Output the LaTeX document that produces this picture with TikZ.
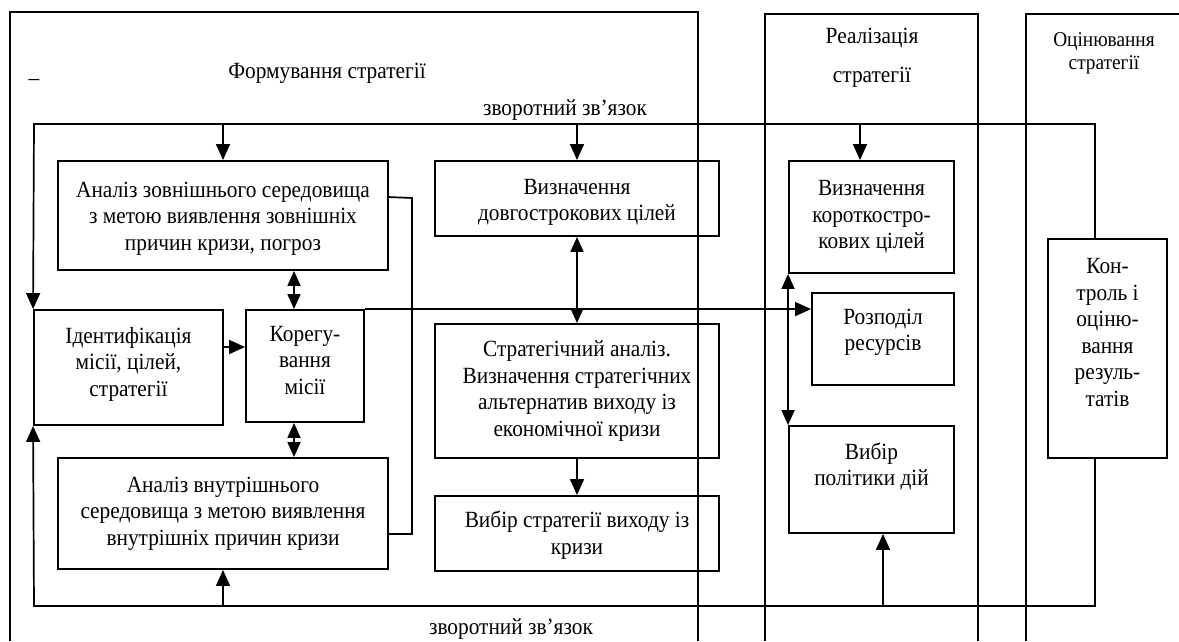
\documentclass[tikz,border=0pt]{standalone}
\usepackage{fontspec}
\setmainfont{Liberation Serif}[FakeStretch=0.92]
\usetikzlibrary{arrows.meta,calc}
\begin{document}
\begin{tikzpicture}[x=1pt,y=-1pt,
  box/.style={draw,line width=1.9pt,inner sep=0pt,align=center,font=\fontsize{23.2}{26.5}\selectfont},
  frame/.style={line width=1.4pt},
  conn/.style={line width=1.7pt},
  arr/.style={conn,-{Triangle[length=16pt,width=14pt]}},
  darr/.style={conn,{Triangle[length=15pt,width=13pt]}-{Triangle[length=15pt,width=13pt]}},
  lab/.style={inner sep=0pt,font=\fontsize{23.2}{26.5}\selectfont},
  ]
\useasboundingbox (0,0) rectangle (1179,641);
% frames
\draw[frame] (10,641) -- (10,12) -- (698,12) -- (698,641);
\draw[frame] (765,641) -- (765,14) -- (978,14) -- (978,641);
\draw[frame] (1026,641) -- (1026,14) -- (1179,14);
% titles
\node[lab] (tform) at (327,73) {Формування стратегії};
\node[lab] (dash) at (34,83) {–};
\node[lab] (treal1) at (872,38) {Реалізація};
\node[lab] (treal2) at (872,77) {стратегії};
\node[lab,font=\fontsize{21}{23}\selectfont] (teval1) at (1104,42) {Оцінювання};
\node[lab,font=\fontsize{21}{23}\selectfont] (teval2) at (1104,65) {стратегії};
\node[lab] (fbtop) at (565,110) {зворотний зв’язок};
\node[lab] (fbbot) at (511,629) {зворотний зв’язок};
% boxes
\node[box,minimum width=330pt,minimum height=109pt] (ext) at (223,215.5) {\rule{0pt}{21pt}Аналіз зовнішнього середовища\\з метою виявлення зовнішніх\\причин кризи, погроз};
\node[box,minimum width=189pt,minimum height=115pt] (ident) at (128.5,367.5) {Ідентифікація\\місії, цілей,\\стратегії\rule[-12pt]{0pt}{12pt}};
\node[box,minimum width=118pt,minimum height=112pt] (kor) at (305,366) {Корегу-\\вання\\місії\rule[-12pt]{0pt}{12pt}};
\node[box,minimum width=330pt,minimum height=111pt] (int) at (223,513.5) {Аналіз внутрішнього\\середовища з метою виявлення\\внутрішніх причин кризи};
\node[box,minimum width=284pt,minimum height=75pt] (long) at (577,198.5) {\rule{0pt}{23pt}Визначення\\довгострокових цілей};
\node[box,minimum width=284pt,minimum height=134pt] (stratan) at (577,391) {Стратегічний аналіз.\\Визначення стратегічних\\альтернатив виходу із\\економічної кризи};
\node[box,minimum width=284pt,minimum height=75pt] (choice) at (577,533.5) {\rule{0pt}{20pt}Вибір стратегії виходу із\\кризи};
\node[box,minimum width=165pt,minimum height=112pt] (short) at (871.5,217) {Визначення\\короткостро-\\кових цілей};
\node[box,minimum width=142pt,minimum height=92pt] (res) at (883,339) {Розподіл\\ресурсів\rule[-18pt]{0pt}{18pt}};
\node[box,minimum width=165pt,minimum height=107pt] (policy) at (871.5,479.5) {Вибір\\політики дій\rule[-31pt]{0pt}{31pt}};
\node[box,minimum width=119pt,minimum height=219pt] (control) at (1107.5,348.5) {Кон-\\троль і\\оціню-\\вання\\резуль-\\татів\\[6pt]};
% feedback coordinates
\coordinate (tl) at (34,124);
\coordinate (bl) at (34,606);
\coordinate (ctop) at ($(control.north)+(-12.5,0)$);
\coordinate (cbot) at ($(control.south)+(-12.5,0)$);
\coordinate (sn) at ($(short.north)+(-11.5,0)$);
\coordinate (ps) at ($(policy.south)+(11.5,0)$);
% top feedback
\draw[arr] (ctop) |- (tl) -- (ident.north west);
\draw[arr] (ext.north |- tl) -- (ext.north);
\draw[arr] (long.north |- tl) -- (long.north);
\draw[arr] (sn |- tl) -- (sn);
% bottom feedback
\draw[arr] (cbot) |- (bl) -- (ident.south west);
\draw[arr] (int.south |- bl) -- (int.south);
\draw[arr] (ps |- bl) -- (ps);
% left group
\draw[arr] (ident.east |- 0,347) -- (kor.west |- 0,347);
\draw[darr] (ext.south -| 294,0) -- (kor.north -| 294,0);
\draw[darr] (kor.south -| 294,0) -- (int.north -| 294,0);
\draw[conn] ([yshift=-37pt]ext.north east) -- (412,198) |- ([yshift=36pt]int.south east);
\draw[arr] (kor.north east) -- (res.west |- kor.north);
% middle
\draw[darr] (long.south) -- (stratan.north);
\draw[arr] (stratan.south) -- (choice.north);
% right
\draw[darr] (short.south west) -- (policy.north west);
\end{tikzpicture}
\end{document}
